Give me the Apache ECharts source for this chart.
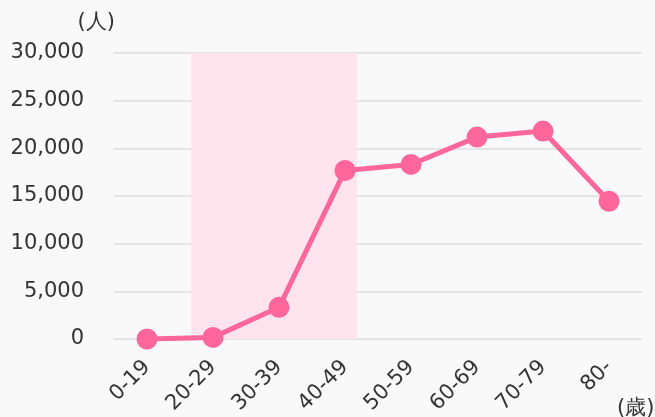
<!DOCTYPE html>
<html><head><meta charset="utf-8">
<script src="https://cdn.jsdelivr.net/npm/echarts@6/dist/echarts.min.js"></script>
<style>html,body{margin:0;padding:0;background:#f9f9f9}#c{width:655px;height:417px}</style>
</head><body><div id="c"></div>
<script>
const categories = ['0-19','20-29','30-39','40-49','50-59','60-69','70-79','80-'];
const values = [0, 170, 3320, 17680, 18310, 21180, 21810, 14450];
const yTicks = [0, 5000, 10000, 15000, 20000, 25000, 30000];
const highlightRange = [0.67, 3.18]; // in category-index units
const yUnit = '(人)';
const xUnit = '(歳)';

const chart = echarts.init(document.getElementById('c'));
const font = 'DejaVu Sans';
chart.setOption({
  backgroundColor: '#f9f9f9',
  animation: false,
  grid: {left: 114, right: 13, top: 53, bottom: 78},
  xAxis: [{
    type: 'category', data: categories, boundaryGap: true,
    axisLine: {show: false}, axisTick: {show: false},
    axisLabel: {rotate: 45, margin: 25, fontSize: 21, color: '#333', fontFamily: font, interval: 0}
  }, {
    type: 'value', min: -0.5, max: 7.5, show: false
  }],
  yAxis: {
    type: 'value', min: yTicks[0], max: yTicks[yTicks.length-1], interval: 5000,
    axisLine: {show: false}, axisTick: {show: false},
    splitLine: {lineStyle: {color: '#dcdcdc', width: 1.5}},
    axisLabel: {fontSize: 21, color: '#333', fontFamily: font, margin: 30,
      formatter: v => v.toLocaleString('en-US')}
  },
  graphic: [
    {type: 'text', style: {text: yUnit, x: 115, y: 23, textAlign: 'right', textVerticalAlign: 'middle',
      font: "21px 'DejaVu Sans'", fill: '#333'}},
    {type: 'text', style: {text: xUnit, x: 617, y: 409, textAlign: 'left', textVerticalAlign: 'middle',
      font: "21px 'DejaVu Sans'", fill: '#333'}}
  ],
  series: [{
    type: 'line', xAxisIndex: 1, data: [], silent: true,
    markArea: {silent: true, itemStyle: {color: '#ffe4ee'},
      data: [[{xAxis: highlightRange[0], yAxis: yTicks[0]}, {xAxis: highlightRange[1], yAxis: yTicks[yTicks.length-1]}]]}
  }, {
    type: 'line', data: values, xAxisIndex: 0,
    symbol: 'circle', symbolSize: 21,
    lineStyle: {color: '#ff6699', width: 5},
    itemStyle: {color: '#ff6699'}
  }]
});
</script></body></html>
